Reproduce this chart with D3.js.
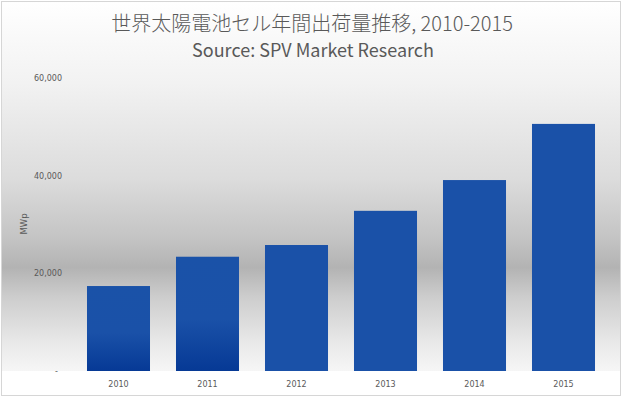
<!DOCTYPE html>
<html>
<head>
<meta charset="utf-8">
<script src="https://cdn.jsdelivr.net/npm/d3@7"></script>
<style>
  body { margin: 0; background: #ffffff; }
  svg { display: block; }
  .tick text { font-family: "DejaVu Sans", sans-serif; font-size: 8px; fill: #595959; }
</style>
</head>
<body>
<div id="chart"></div>
<script>
var years = ["2010", "2011", "2012", "2013", "2014", "2015"];
var shipments = [17400, 23400, 25800, 32800, 39100, 50600];
var yTicks = [0, 20000, 40000, 60000];
var title = "世界太陽電池セル年間出荷量推移, 2010-2015";
var subtitle = "Source: SPV Market Research";
var yLabel = "MWp";

var width = 624,
  height = 398,
  baseline = 371,
  plotTop = 78;

var svg = d3
  .select("#chart")
  .append("svg")
  .attr("width", width)
  .attr("height", height);

var defs = svg.append("defs");

// gray band background
var bg = defs
  .append("linearGradient")
  .attr("id", "bg")
  .attr("x1", 0).attr("y1", 0)
  .attr("x2", 0).attr("y2", 1);
[
  [0, "#ffffff"],
  [0.22, "#f2f2f2"],
  [0.48, "#dcdcdc"],
  [0.64, "#c4c4c4"],
  [0.72, "#b3b3b3"],
  [0.8, "#cdcdcd"],
  [0.92, "#e8e8e8"],
  [1, "#f6f6f6"]
].forEach(function(s) {
  bg.append("stop").attr("offset", s[0]).attr("stop-color", s[1]);
});

var barGrad = defs
  .append("linearGradient")
  .attr("id", "barGrad")
  .attr("x1", 0).attr("y1", 0)
  .attr("x2", 0).attr("y2", 1);
barGrad.append("stop").attr("offset", 0).attr("stop-color", "#1a52a8");
barGrad.append("stop").attr("offset", 0.55).attr("stop-color", "#1a51a8");
barGrad.append("stop").attr("offset", 1).attr("stop-color", "#063995");

svg
  .append("rect")
  .attr("x", 1.5)
  .attr("y", 1.5)
  .attr("width", 619)
  .attr("height", baseline - 1.5)
  .attr("fill", "url(#bg)");

svg
  .append("rect")
  .attr("x", 1.5)
  .attr("y", 1.5)
  .attr("width", 619)
  .attr("height", 394)
  .attr("fill", "none")
  .attr("stroke", "#d6d6d6");

// scales
var xScale = d3
  .scaleBand()
  .domain(years)
  .range([74, 608])
  .paddingInner(0.292)
  .paddingOuter(0.146);

var yScale = d3
  .scaleLinear()
  .domain([0, 60000])
  .range([baseline, plotTop]);

// bars
svg
  .append("g")
  .selectAll("rect")
  .data(shipments)
  .enter()
  .append("rect")
  .attr("x", function(d, i) {
    return xScale(years[i]);
  })
  .attr("y", function(d) {
    return yScale(d);
  })
  .attr("width", xScale.bandwidth())
  .attr("height", function(d) {
    return baseline - yScale(d);
  })
  .attr("fill", function(d, i) {
    return i < 2 ? "url(#barGrad)" : "#1a51a8";
  });

// y axis
var yAxis = svg
  .append("g")
  .attr("transform", "translate(62,0)")
  .call(
    d3
      .axisLeft(yScale)
      .tickValues(yTicks)
      .tickSize(0)
      .tickPadding(0)
      .tickFormat(function(d) {
        return d === 0 ? "-" : d3.format(",")(d);
      })
  );
yAxis.select(".domain").remove();
yAxis
  .selectAll(".tick text")
  .filter(function(d) {
    return d === 0;
  })
  .attr("dx", "-4px");

// x axis
var xAxis = svg
  .append("g")
  .attr("transform", "translate(0," + baseline + ")")
  .call(d3.axisBottom(xScale).tickSize(0).tickPadding(10));
xAxis.select(".domain").remove();

// axis title
svg
  .append("text")
  .attr("transform", "translate(27,224) rotate(-90)")
  .attr("text-anchor", "middle")
  .style("font-family", "DejaVu Sans, sans-serif")
  .style("font-size", "8.5px")
  .style("fill", "#595959")
  .text(yLabel);

// titles
svg
  .append("text")
  .attr("x", 312)
  .attr("y", 31)
  .attr("text-anchor", "middle")
  .style("font-family", "'Noto Sans CJK JP', sans-serif")
  .style("font-size", "20px")
  .style("font-weight", 300)
  .style("fill", "#595959")
  .text(title);

svg
  .append("text")
  .attr("x", 313)
  .attr("y", 57)
  .attr("text-anchor", "middle")
  .style("font-family", "'Noto Sans CJK JP', sans-serif")
  .style("font-size", "18px")
  .style("fill", "#595959")
  .text(subtitle);
</script>
</body>
</html>
